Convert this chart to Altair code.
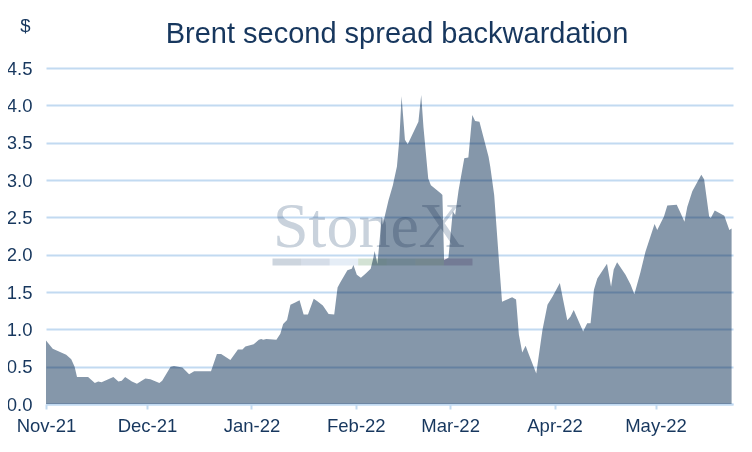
import altair as alt
import pandas as pd

# ---- data ----
dates = [
    "2021-11-01 00:00", "2021-11-03 00:00", "2021-11-05 00:00", "2021-11-07 00:00",
    "2021-11-08 12:00", "2021-11-09 12:00", "2021-11-10 05:00", "2021-11-13 12:00",
    "2021-11-15 12:00", "2021-11-16 12:00", "2021-11-17 12:00", "2021-11-19 00:00",
    "2021-11-21 00:00", "2021-11-22 12:00", "2021-11-23 12:00", "2021-11-24 12:00",
    "2021-11-26 12:00", "2021-11-28 00:00", "2021-11-30 12:00", "2021-12-02 00:00",
    "2021-12-04 16:00", "2021-12-05 12:00", "2021-12-08 00:00", "2021-12-09 00:00",
    "2021-12-11 12:00", "2021-12-13 12:00", "2021-12-15 00:00", "2021-12-20 00:00",
    "2021-12-21 18:00", "2021-12-23 00:00", "2021-12-25 18:00", "2021-12-28 00:00",
    "2021-12-29 08:00", "2021-12-30 05:00",
    "2022-01-01 16:00", "2022-01-03 05:00", "2022-01-03 22:00", "2022-01-04 12:00",
    "2022-01-05 10:00", "2022-01-08 10:00", "2022-01-09 14:00", "2022-01-10 10:00",
    "2022-01-11 14:00", "2022-01-12 14:00", "2022-01-14 00:00", "2022-01-15 07:00",
    "2022-01-16 12:00", "2022-01-17 19:00", "2022-01-19 12:00", "2022-01-20 14:00",
    "2022-01-22 05:00", "2022-01-23 22:00", "2022-01-25 14:00", "2022-01-26 14:00",
    "2022-01-27 10:00", "2022-01-29 12:00", "2022-01-30 19:00", "2022-01-31 07:00",
    "2022-02-01 07:00", "2022-02-02 12:00", "2022-02-03 19:00", "2022-02-05 10:00",
    "2022-02-06 05:00", "2022-02-06 14:00", "2022-02-07 10:00", "2022-02-08 17:00",
    "2022-02-09 00:00", "2022-02-10 17:00", "2022-02-12 00:00", "2022-02-13 05:00",
    "2022-02-13 22:00", "2022-02-14 14:00", "2022-02-15 14:00", "2022-02-16 10:00",
    "2022-02-19 14:00", "2022-02-20 10:00", "2022-02-21 02:00", "2022-02-22 12:00",
    "2022-02-23 07:00", "2022-02-26 07:00", "2022-02-26 17:00", "2022-02-27 05:00",
    "2022-02-28 12:00", "2022-03-01 19:00", "2022-03-02 12:00", "2022-03-03 12:00",
    "2022-03-05 05:00", "2022-03-06 10:00", "2022-03-07 14:00", "2022-03-08 10:00",
    "2022-03-09 17:00", "2022-03-12 10:00", "2022-03-12 22:00", "2022-03-14 02:00",
    "2022-03-15 10:00", "2022-03-16 10:00", "2022-03-17 10:00", "2022-03-19 10:00",
    "2022-03-20 14:00", "2022-03-21 10:00", "2022-03-22 10:00", "2022-03-23 10:00",
    "2022-03-24 10:00", "2022-03-26 14:00", "2022-03-28 10:00", "2022-03-29 22:00",
    "2022-03-31 10:00", "2022-04-02 14:00", "2022-04-03 14:00", "2022-04-04 19:00",
    "2022-04-05 17:00", "2022-04-06 17:00", "2022-04-09 12:00", "2022-04-10 17:00",
    "2022-04-11 17:00", "2022-04-12 17:00", "2022-04-13 17:00", "2022-04-16 14:00",
    "2022-04-17 19:00", "2022-04-18 14:00", "2022-04-19 14:00", "2022-04-22 02:00",
    "2022-04-23 14:00", "2022-04-24 17:00", "2022-04-26 12:00", "2022-04-28 00:00",
    "2022-04-30 17:00", "2022-05-01 12:00", "2022-05-03 12:00", "2022-05-04 12:00",
    "2022-05-07 07:00", "2022-05-08 12:00", "2022-05-09 14:00", "2022-05-10 10:00",
    "2022-05-11 22:00", "2022-05-14 14:00", "2022-05-15 10:00", "2022-05-16 22:00",
    "2022-05-17 10:00", "2022-05-18 14:00", "2022-05-21 10:00", "2022-05-22 22:00",
    "2022-05-23 14:00",
]
values = [
    0.85, 0.74, 0.70, 0.66,
    0.60, 0.50, 0.36, 0.36,
    0.28, 0.30, 0.29, 0.32,
    0.36, 0.30, 0.31, 0.36,
    0.30, 0.27, 0.34, 0.33,
    0.28, 0.31, 0.50, 0.51,
    0.49, 0.40, 0.44, 0.44,
    0.67, 0.67, 0.59, 0.73,
    0.73, 0.77,
    0.80, 0.86, 0.87, 0.86,
    0.87, 0.86, 0.94, 1.07,
    1.125, 1.33, 1.36, 1.39,
    1.20, 1.20, 1.41, 1.375,
    1.32, 1.205, 1.20, 1.56,
    1.63, 1.79, 1.81, 1.86,
    1.73, 1.69, 1.74, 1.81,
    1.96, 2.05, 1.875, 2.51,
    2.40, 2.73, 2.93, 3.18,
    3.54, 4.12, 3.54, 3.48,
    3.78, 4.14, 3.71, 3.02,
    2.93, 2.82, 2.80, 1.93,
    1.96, 2.58, 2.53, 2.86,
    3.29, 3.30, 3.87, 3.79,
    3.78, 3.31, 3.18, 2.80,
    1.97, 1.37, 1.39, 1.43,
    1.40, 0.93, 0.69, 0.78,
    0.66, 0.41, 0.99, 1.33,
    1.44, 1.62, 1.39, 1.12,
    1.17, 1.26, 0.97, 1.08,
    1.08, 1.53, 1.68, 1.88,
    1.57, 1.80, 1.90, 1.73,
    1.60, 1.47, 1.76, 2.04,
    2.41, 2.33, 2.51, 2.66,
    2.67, 2.55, 2.44, 2.64,
    2.85, 3.07, 3.01, 2.51,
    2.49, 2.59, 2.52, 2.33,
    2.35,
]
y_ticks = [0.0, 0.5, 1.0, 1.5, 2.0, 2.5, 3.0, 3.5, 4.0, 4.5]
month_ticks = [(2021, 11), (2021, 12), (2022, 1), (2022, 2), (2022, 3), (2022, 4), (2022, 5)]
title_text = "Brent second spread backwardation"
y_unit = "$"
watermark = "StoneX"
wm_bar_colors = ["#cdd5de", "#d5dde8", "#e5edf6", "#d3e2d4", "#d6e2dc", "#dfe4d6", "#ddcfe0"]

NAVY = "#17375e"
LIGHT = "#c2daf1"
FONT = "Liberation Sans"
LBL = 18.5

df = pd.DataFrame({"date": pd.to_datetime(dates), "value": values})

x_scale = alt.Scale(domain=[alt.DateTime(year=2021, month=11, date=1),
                            alt.DateTime(year=2022, month=5, date=24)])
y_scale = alt.Scale(domain=[0, 4.5], nice=False)

# area multiplied over the light-blue gridlines (gridlines show through darker)
area = alt.Chart(df).mark_area(color="#8597aa", opacity=1, interpolate="linear",
                               blend="multiply").encode(
    x=alt.X("date:T", scale=x_scale,
            axis=alt.Axis(values=[alt.DateTime(year=y, month=m, date=1) for y, m in month_ticks],
                          format="%b-%y", title=None, grid=False,
                          domainColor=LIGHT, domainWidth=2,
                          tickColor=LIGHT, tickWidth=2, tickSize=5,
                          labelFont=FONT, labelFontSize=LBL, labelColor=NAVY,
                          labelPadding=7, labelFlush=False, labelOverlap=False)),
    y=alt.Y("value:Q", scale=y_scale,
            axis=alt.Axis(values=y_ticks, format=".1f", grid=True, gridColor=LIGHT,
                          gridWidth=2, domain=False, ticks=False,
                          labelFont=FONT, labelFontSize=LBL, labelColor=NAVY, labelPadding=14,
                          labelOverlap=False, labelFlush=False,
                          title=y_unit, titleAngle=0, titleFont=FONT, titleFontSize=LBL,
                          titleFontWeight="normal", titleColor=NAVY, titleAlign="center",
                          titleBaseline="alphabetic", titleX=-21, titleY=-37)),
)

# watermark (logo text + colour bar)
wm_text = alt.Chart(pd.DataFrame({"t": [watermark]})).mark_text(
    font="Liberation Serif", fontSize=64, color="#c9d2dc", align="center",
    baseline="alphabetic", blend="multiply",
).encode(text="t:N", x=alt.value(323), y=alt.value(179))

bar_layers = []
seg_w = 200 / len(wm_bar_colors)
for i, c in enumerate(wm_bar_colors):
    bar_layers.append(
        alt.Chart(pd.DataFrame({"i": [i]})).mark_rect(color=c, blend="multiply").encode(
            x=alt.value(226.5 + i * seg_w), x2=alt.value(226.5 + (i + 1) * seg_w),
            y=alt.value(190.5), y2=alt.value(197.5))
    )

title = alt.Chart(pd.DataFrame({"t": [title_text]})).mark_text(
    font=FONT, fontSize=29, color=NAVY, align="center", baseline="alphabetic"
).encode(text="t:N", x=alt.value(351), y=alt.value(-25))

chart = alt.layer(area, wm_text, *bar_layers, title).properties(
    width=687, height=336,
    padding={"left": 38, "top": 60, "right": 11, "bottom": 32},
    autosize=alt.AutoSizeParams(type="none"),
).configure_view(stroke=None)

chart.save("out.html", embed_options={"renderer": "svg", "actions": False})
